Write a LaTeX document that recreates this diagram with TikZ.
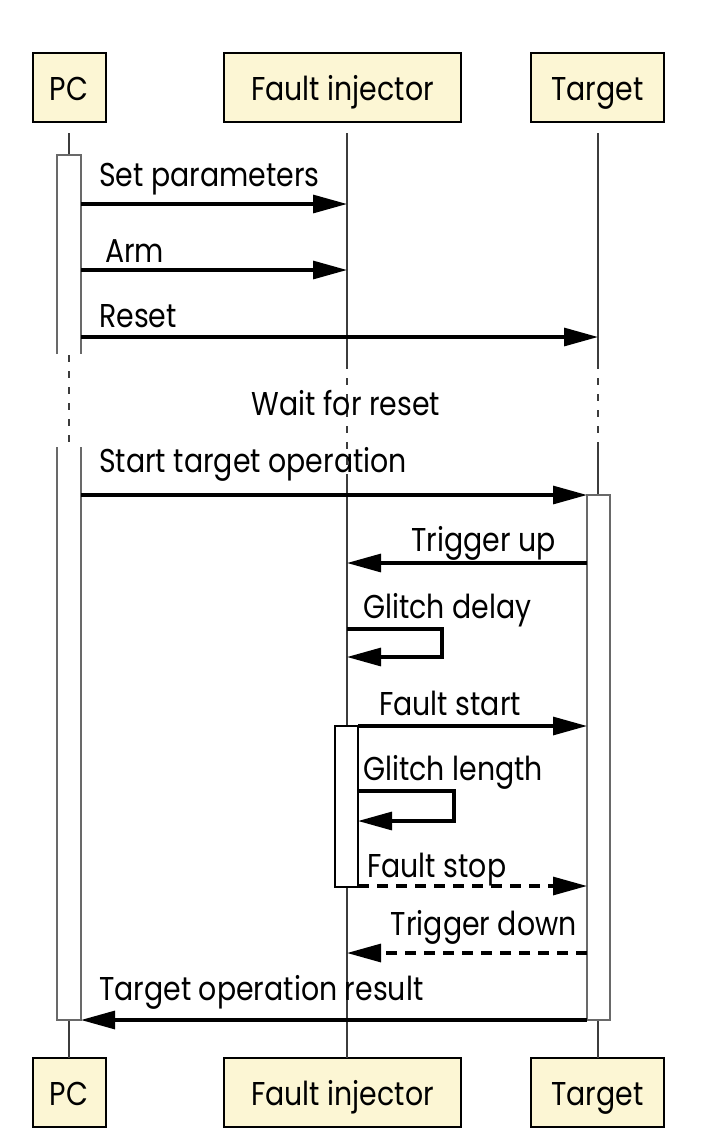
\documentclass[tikz,border=0pt]{standalone}
\usepackage{fontspec}
\setmainfont{Poppins}[FakeStretch=0.86]
\usetikzlibrary{arrows.meta}
\definecolor{boxfill}{RGB}{252,246,212}
\definecolor{barline}{RGB}{105,105,105}
\definecolor{lifeline}{RGB}{60,60,60}
\begin{document}
\begin{tikzpicture}[x=1pt,y=-1pt,
  font=\fontsize{33}{36}\selectfont,
  actor/.style={draw=black, line width=2pt, fill=boxfill, minimum height=69pt,
    inner sep=0pt, text height=25pt, text depth=0pt},
  msg/.style={line width=3.1pt, -{Triangle[length=34pt,width=18pt]}},
  reply/.style={msg, dash pattern=on 11pt off 8pt},
  life/.style={line width=1.5pt, draw=lifeline},
  lifedash/.style={life, dash pattern=on 7pt off 9pt},
  bar/.style={line width=1.7pt, draw=barline, fill=white},
  lbl/.style={anchor=base west, inner sep=0pt}]
\useasboundingbox (0,0) rectangle (710,1144);

% actor boxes
\node[actor, minimum width=73pt]  (pcT) at (69,87.5)   {PC};
\node[actor, minimum width=237pt] (fiT) at (342.5,87.5) {Fault injector};
\node[actor, minimum width=133pt] (tgT) at (597.5,87.5) {Target};
\node[actor, minimum width=73pt]  (pcB) at (69,1092.5)   {PC};
\node[actor, minimum width=237pt] (fiB) at (342.5,1092.5) {Fault injector};
\node[actor, minimum width=133pt] (tgB) at (597.5,1092.5) {Target};

% lifeline coordinates
\coordinate (pc0) at (69,133);   \coordinate (pc1) at (69,155);
\coordinate (pc2) at (69,355);   \coordinate (pc3) at (69,447);
\coordinate (pc4) at (69,1020);  \coordinate (pc5) at (69,1058);
\coordinate (fi0) at (347,133);  \coordinate (fi1) at (347,362);
\coordinate (fi2) at (347,478);  \coordinate (fi3) at (347,726);
\coordinate (fi4) at (347,887);  \coordinate (fi5) at (347,1058);
\coordinate (tg0) at (598,133);  \coordinate (tg1) at (598,362);
\coordinate (tg2) at (598,447);  \coordinate (tg3) at (598,495);
\coordinate (tg4) at (598,1020); \coordinate (tg5) at (598,1058);

% lifelines
\draw[life] (pc0) -- (pc1);
\draw[lifedash] (pc2) -- (pc3);
\draw[life] (pc4) -- (pc5);
\draw[life] (fi0) -- (fi1);
\draw[lifedash] (fi1) -- (fi2);
\draw[life] (fi2) -- (fi3);
\draw[life] (fi4) -- (fi5);
\draw[life] (tg0) -- (tg1);
\draw[lifedash] (tg1) -- (tg2);
\draw[life] (tg2) -- (tg3);
\draw[life] (tg4) -- (tg5);

% activation bars
\draw[bar] (57,354) -- (57,155) -- (81,155) -- (81,354);
\draw[bar] (57,447) -- (57,1020) -- (81,1020) -- (81,447);
\draw[bar] (587,495) rectangle (610,1020);
\draw[bar, draw=black] (335,726) rectangle (358,887);

% message end points
\coordinate (m1a) at (81,204);  \coordinate (m1b) at (347,204);
\coordinate (m2a) at (81,270);  \coordinate (m2b) at (347,270);
\coordinate (m3a) at (81,337);  \coordinate (m3b) at (598,337);
\coordinate (m4a) at (81,495);  \coordinate (m4b) at (587,495);
\coordinate (m5a) at (587,563); \coordinate (m5b) at (347,563);
\coordinate (m6a) at (347,629); \coordinate (m6b) at (347,657);
\coordinate (m7a) at (358,726); \coordinate (m7b) at (587,726);
\coordinate (m8a) at (358,791); \coordinate (m8b) at (358,821);
\coordinate (m9a) at (358,886); \coordinate (m9b) at (587,886);
\coordinate (m10a) at (587,953); \coordinate (m10b) at (347,953);
\coordinate (m11a) at (587,1020); \coordinate (m11b) at (81,1020);

% messages
\draw[msg] (m1a) -- (m1b);
\draw[msg] (m2a) -- (m2b);
\draw[msg] (m3a) -- (m3b);
\draw[msg] (m4a) -- (m4b);
\draw[msg] (m5a) -- (m5b);
\draw[msg] (m6a) -- ++(95,0) |- (m6b);
\draw[msg] (m7a) -- (m7b);
\draw[msg] (m8a) -- ++(96,0) |- (m8b);
\draw[reply] (m9a) -- (m9b);
\draw[reply] (m10a) -- (m10b);
\draw[msg] (m11a) -- (m11b);

% labels
\node[lbl] (l1) at (99,186) {Set parameters};
\node[lbl] (l2) at (105,262) {Arm};
\node[lbl] (l3) at (99,327) {Reset};
\node[anchor=base, inner sep=0pt] (l0) at (346,415) {Wait for reset};
\node[lbl] (l4) at (99,472) {Start target operation};
\node[anchor=base east, inner sep=0pt] (l5) at (556,551) {Trigger up};
\node[lbl] (l6) at (363,618) {Glitch delay};
\node[lbl] (l7) at (379,715) {Fault start};
\node[lbl] (l8) at (363,780) {Glitch length};
\node[lbl] (l9) at (367,877) {Fault stop};
\node[anchor=base east, inner sep=0pt] (l10) at (577,935) {Trigger down};
\node[lbl] (l11) at (99,1000) {Target operation result};
\end{tikzpicture}
\end{document}
